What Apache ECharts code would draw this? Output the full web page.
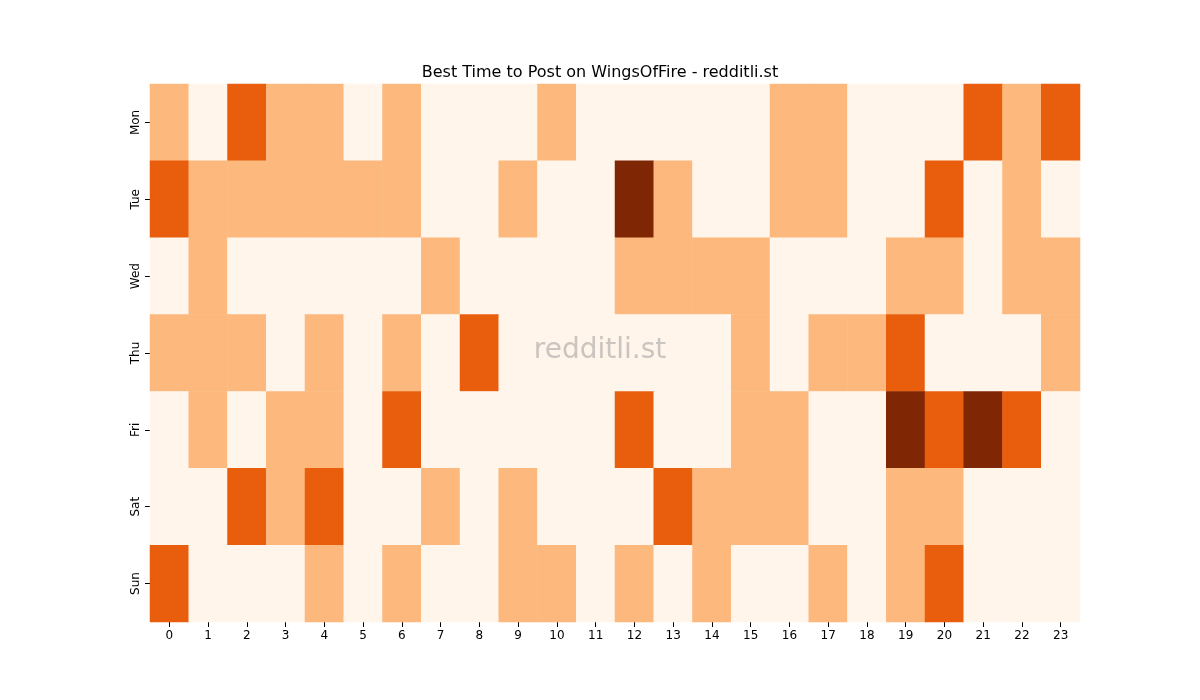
<!DOCTYPE html>
<html><head><meta charset="utf-8">
<script src="https://cdn.jsdelivr.net/npm/echarts@6/dist/echarts.min.js"></script>
<style>html,body{margin:0;background:#fff}#c{width:1200px;height:700px}</style>
</head><body><div id="c"></div>
<script>
const hours = Array.from({length:24},(_, i)=>String(i));
const days = ['Mon','Tue','Wed','Thu','Fri','Sat','Sun'];
const Mon = [1,0,2,1,1,0,1,0,0,0,1,0,0,0,0,0,1,1,0,0,0,2,1,2];
const Tue = [2,1,1,1,1,1,1,0,0,1,0,0,3,1,0,0,1,1,0,0,2,0,1,0];
const Wed = [0,1,0,0,0,0,0,1,0,0,0,0,1,1,1,1,0,0,0,1,1,0,1,1];
const Thu = [1,1,1,0,1,0,1,0,2,0,0,0,0,0,0,1,0,1,1,2,0,0,0,1];
const Fri = [0,1,0,1,1,0,2,0,0,0,0,0,2,0,0,1,1,0,0,3,2,3,2,0];
const Sat = [0,0,2,1,2,0,0,1,0,1,0,0,0,2,1,1,1,0,0,1,1,0,0,0];
const Sun = [2,0,0,0,1,0,1,0,0,1,1,0,1,0,1,0,0,1,0,1,2,0,0,0];
const rows = [Mon,Tue,Wed,Thu,Fri,Sat,Sun];
const data = [];
rows.forEach((r,d)=>r.forEach((v,h)=>data.push([h,d,v])));
const chart = echarts.init(document.getElementById('c'));
chart.setOption({
  animation:false,
  title:{text:'Best Time to Post on WingsOfFire - redditli.st',left:'center',top:60,textStyle:{fontSize:16,fontWeight:'normal',color:'#000',fontFamily:'DejaVu Sans'}},
  grid:{left:150,right:120,top:84,bottom:78},
  xAxis:{type:'category',data:hours,splitArea:{show:false},axisLine:{show:false},axisTick:{show:true,alignWithLabel:true,lineStyle:{color:'#000'}},axisLabel:{color:'#000',fontSize:12,fontFamily:'DejaVu Sans'}},
  yAxis:{type:'category',data:days,inverse:true,axisLine:{show:false},axisTick:{show:true,alignWithLabel:true,lineStyle:{color:'#000'}},axisLabel:{color:'#000',fontSize:12,rotate:90,fontFamily:'DejaVu Sans'}},
  visualMap:{show:false,type:'piecewise',dimension:2,pieces:[{value:0,color:'#fff5eb'},{value:1,color:'#fdb87d'},{value:2,color:'#e95e0d'},{value:3,color:'#7f2704'}]},
  series:[{type:'heatmap',data:data,itemStyle:{borderWidth:0}}],
  graphic:[{type:'text',left:'center',top:337,x:15,style:{text:'redditli.st',fontSize:28,fill:'rgba(150,150,150,0.5)',fontFamily:'DejaVu Sans'},z:100}]
});
</script></body></html>
